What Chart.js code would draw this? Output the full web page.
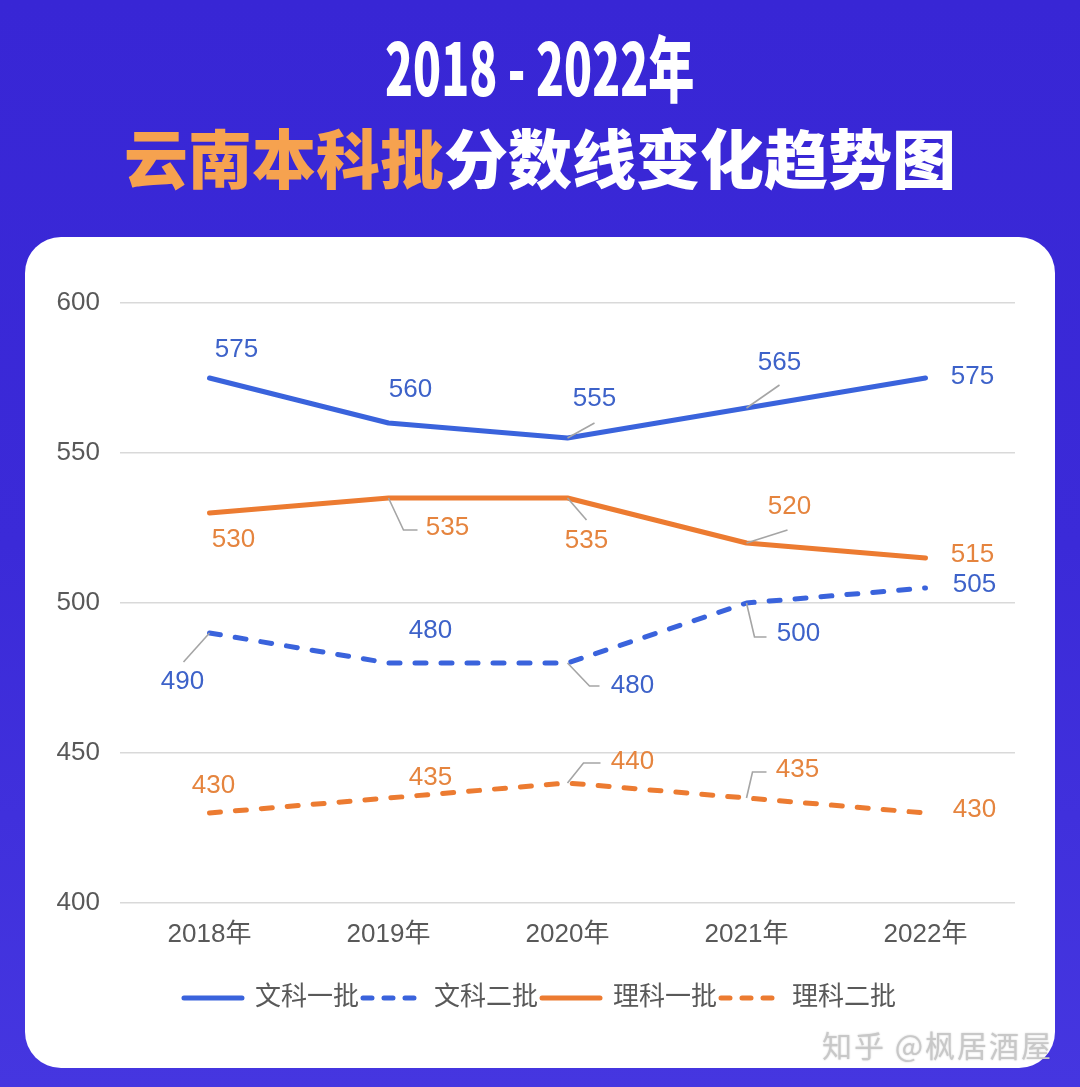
<!DOCTYPE html>
<html>
<head>
<meta charset="utf-8">
<script src="https://cdn.jsdelivr.net/npm/chart.js@4"></script>
<style>
  html, body { margin: 0; padding: 0; }
  body {
    width: 1080px; height: 1087px; overflow: hidden; position: relative;
    background: linear-gradient(180deg, #3826d5 0%, #3b2ad8 50%, #4536e0 100%);
    font-family: "Liberation Sans", "Noto Sans CJK SC", sans-serif;
  }
  .t1 {
    position: absolute; left: 0; top: 21px; width: 1080px; text-align: center;
    color: #fff; font-family: "Noto Sans CJK SC"; font-weight: 900; font-size: 72px; line-height: 88px;
  }
  .t1 span { display: inline-block; transform: scaleX(0.64); transform-origin: center; }
  .t2 {
    position: absolute; left: 0; top: 111px; width: 1080px; text-align: center;
    color: #fff; font-family: "Noto Sans CJK SC"; font-weight: 900; font-size: 64px; line-height: 88px;
    letter-spacing: 0px;
  }
  .t2 .o { color: #f6a24f; }
  .card {
    position: absolute; left: 25px; top: 237px; width: 1030px; height: 831px;
    background: #fff; border-radius: 36px;
  }
  #wrap { position: absolute; left: 25px; top: 237px; width: 1030px; height: 800px; }
  .wm {
    position: absolute; left: 822px; top: 1022px; font-size: 30px; color: #c8c8c8;
    font-family: "Noto Sans CJK SC"; text-shadow: 0 0 2px rgba(0,0,0,0.18);
    white-space: nowrap; letter-spacing: 2px;
  }
</style>
</head>
<body>
<div class="t1"><span>2018 - 2022年</span></div>
<div class="t2"><span class="o">云南本科批</span>分数线变化趋势图</div>
<div class="card"></div>
<div id="wrap"><canvas id="c" width="1030" height="800"></canvas></div>
<div class="wm">知乎 @枫居酒屋</div>
<script>
// ---- data ----
const years = ["2018年", "2019年", "2020年", "2021年", "2022年"];
const seriesNames = ["文科一批", "文科二批", "理科一批", "理科二批"];
const wenke1 = [575, 560, 555, 565, 575];
const wenke2 = [490, 480, 480, 500, 505];
const like1  = [530, 535, 535, 520, 515];
const like2  = [430, 435, 440, 435, 430];
const yTicks = [400, 450, 500, 550, 600];

// ---- styling (label offsets and leader lines, relative to each point) ----
const BLUE = "#3a63dc", ORANGE = "#ec7b31";
const BLUE_TXT = "#3d62c9", ORANGE_TXT = "#e5843e";
const labelLayout = [
  [ {dx:27,dy:-28}, {dx:22,dy:-33}, {dx:27,dy:-39,lead:[[0,0],[27,-15]]},
    {dx:33,dy:-45,lead:[[0,0],[33,-23]]}, {dx:47,dy:-1} ],
  [ {dx:-27,dy:49,lead:[[0,0],[-26,29]]}, {dx:42,dy:-32},
    {dx:65,dy:23,lead:[[0,0],[22,23],[32,23]]},
    {dx:52,dy:31,lead:[[0,0],[8,34],[20,34]]}, {dx:49,dy:-3} ],
  [ {dx:24,dy:27}, {dx:59,dy:30,lead:[[0,0],[15,32],[29,32]]},
    {dx:19,dy:43,lead:[[0,0],[19,22]]},
    {dx:43,dy:-36,lead:[[0,0],[41,-13]]}, {dx:47,dy:-3} ],
  [ {dx:4,dy:-27}, {dx:42,dy:-20},
    {dx:65,dy:-21,lead:[[0,0],[16,-20],[33,-20]]},
    {dx:51,dy:-28,lead:[[0,0],[6,-26],[20,-26]]}, {dx:49,dy:-3} ]
];
const labelColors = [BLUE_TXT, BLUE_TXT, ORANGE_TXT, ORANGE_TXT];

const labelPlugin = {
  id: "pointLabels",
  afterDatasetsDraw(chart) {
    const ctx = chart.ctx;
    chart.data.datasets.forEach((ds, i) => {
      const meta = chart.getDatasetMeta(i);
      meta.data.forEach((pt, j) => {
        const spec = labelLayout[i][j];
        ctx.save();
        if (spec.lead) {
          ctx.strokeStyle = "#a5a5a5";
          ctx.lineWidth = 1.6;
          ctx.setLineDash([]);
          ctx.beginPath();
          spec.lead.forEach((q, k) => {
            if (k === 0) ctx.moveTo(pt.x + q[0], pt.y + q[1]);
            else ctx.lineTo(pt.x + q[0], pt.y + q[1]);
          });
          ctx.stroke();
        }
        ctx.fillStyle = labelColors[i];
        ctx.font = "26px 'Liberation Sans', 'Noto Sans CJK SC', sans-serif";
        ctx.textAlign = "center";
        ctx.textBaseline = "middle";
        ctx.fillText(String(ds.data[j]), pt.x + spec.dx, pt.y + spec.dy);
        ctx.restore();
      });
    });
  }
};

const FONT = { family: "'Liberation Sans', 'Noto Sans CJK SC', sans-serif", size: 26 };

new Chart(document.getElementById("c"), {
  type: "line",
  data: {
    labels: years,
    datasets: [
      { label: seriesNames[0], data: wenke1, borderColor: BLUE, backgroundColor: BLUE, borderWidth: 5,
        borderCapStyle: "round", borderJoinStyle: "round", pointRadius: 0, tension: 0 },
      { label: seriesNames[1], data: wenke2, borderColor: BLUE, backgroundColor: BLUE, borderWidth: 5,
        borderDash: [11, 15], borderCapStyle: "round", borderJoinStyle: "round", pointRadius: 0, tension: 0 },
      { label: seriesNames[2], data: like1, borderColor: ORANGE, backgroundColor: ORANGE, borderWidth: 5,
        borderCapStyle: "round", borderJoinStyle: "round", pointRadius: 0, tension: 0 },
      { label: seriesNames[3], data: like2, borderColor: ORANGE, backgroundColor: ORANGE, borderWidth: 5,
        borderDash: [11, 15], borderCapStyle: "round", borderJoinStyle: "round", pointRadius: 0, tension: 0 }
    ]
  },
  options: {
    responsive: false,
    animation: false,
    devicePixelRatio: 1,
    layout: { padding: { left: 0, right: 0, top: 66, bottom: 16 } },
    scales: {
      x: {
        offset: true,
        grid: { display: false, drawTicks: false },
        border: { display: false },
        ticks: { color: "#595959", font: FONT, padding: 16, maxRotation: 0 },
        afterFit(scale) { scale.height = 78; }
      },
      y: {
        min: 400, max: 600,
        afterBuildTicks(scale) { scale.ticks = yTicks.map(v => ({ value: v })); },
        grid: { color: "#d9d9d9", lineWidth: 1.6, drawTicks: false },
        border: { display: false },
        ticks: { color: "#595959", font: FONT, padding: 20 },
        afterFit(scale) { scale.width = 95; }
      },
      yRight: {
        position: "right",
        min: 400, max: 600,
        grid: { display: false, drawTicks: false },
        border: { display: false },
        ticks: { display: false },
        afterFit(scale) { scale.width = 40; }
      }
    },
    plugins: {
      legend: {
        position: "bottom",
        labels: {
          usePointStyle: true, pointStyle: "line", pointStyleWidth: 58,
          color: "#595959", font: FONT, padding: 4, boxHeight: 5,
          generateLabels(chart) {
            const items = Chart.defaults.plugins.legend.labels.generateLabels(chart);
            items.forEach(it => {
              const ds = chart.data.datasets[it.datasetIndex];
              it.lineDash = ds.borderDash ? [9, 12] : [];
              it.lineCap = "round";
              it.lineWidth = 5;
              it.pointStyle = "line";
            });
            return items;
          }
        }
      },
      tooltip: { enabled: false }
    }
  },
  plugins: [labelPlugin]
});
</script>
</body>
</html>
